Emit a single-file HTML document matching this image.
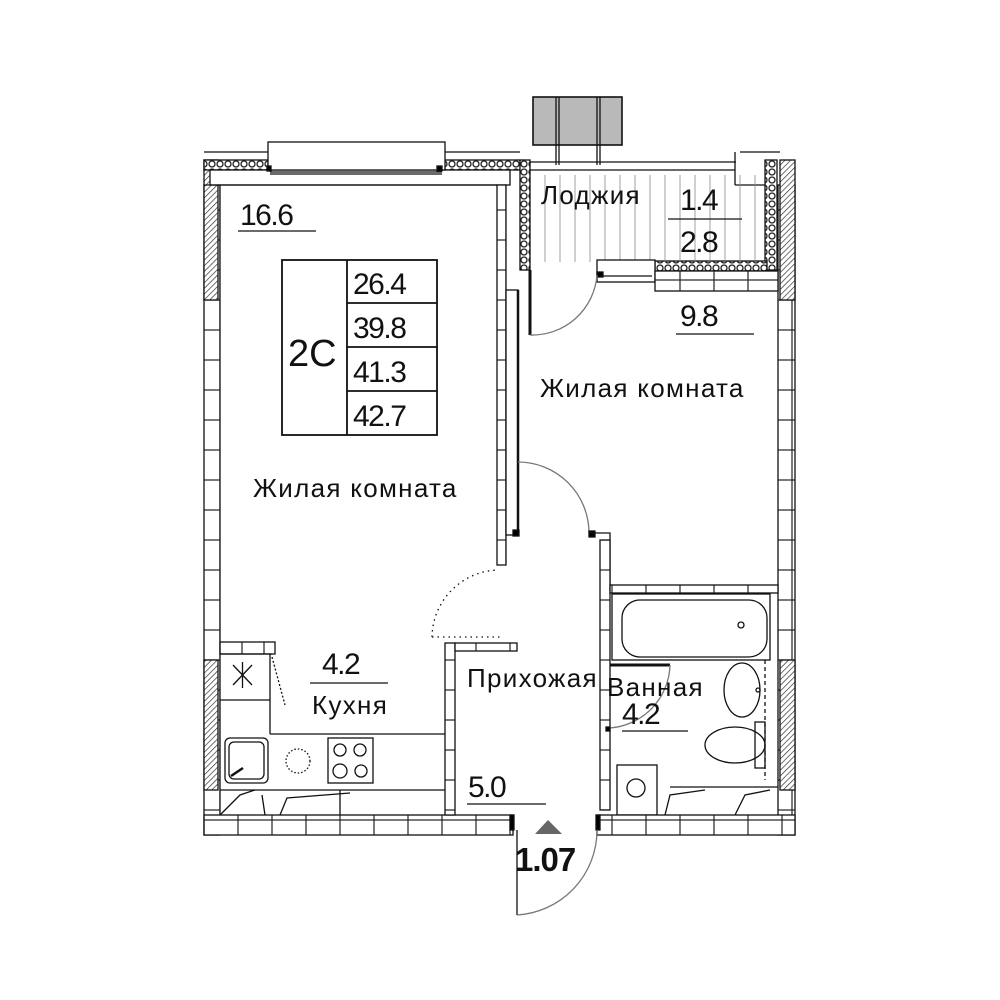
<!DOCTYPE html>
<html><head><meta charset="utf-8"><style>
html,body{margin:0;padding:0;background:#fff;}
svg{display:block}
text{font-family:"Liberation Sans",sans-serif;fill:#111}
.n{font-size:30px;letter-spacing:-1.5px}
.l{font-size:26px;letter-spacing:1.3px}
</style></head><body>
<svg width="1000" height="1000" viewBox="0 0 1000 1000" xmlns="http://www.w3.org/2000/svg">
<defs>
<pattern id="h" width="4" height="4" patternUnits="userSpaceOnUse" patternTransform="rotate(45)"><rect width="4" height="4" fill="#fff"/><line x1="0" y1="0" x2="0" y2="4" stroke="#333" stroke-width="1.4"/></pattern>
<pattern id="ins" width="8" height="8" patternUnits="userSpaceOnUse"><rect width="8" height="8" fill="#fff"/><circle cx="4" cy="4" r="3" fill="none" stroke="#222" stroke-width="1.3"/></pattern>
<pattern id="br" width="22" height="30" patternUnits="userSpaceOnUse"><rect width="22" height="30" fill="#fff" stroke="#222" stroke-width="1.2"/></pattern>
<pattern id="bh" width="34" height="20" patternUnits="userSpaceOnUse"><rect width="34" height="20" fill="#fff" stroke="#222" stroke-width="1.2"/></pattern>
</defs>
<g stroke="#111" stroke-width="1.3" fill="none">
<rect x="204" y="185" width="16" height="650" fill="url(#br)"/>
<rect x="204" y="160" width="14" height="140" fill="url(#h)"/>
<rect x="204" y="660" width="14" height="130" fill="url(#h)"/>
<rect x="778" y="185" width="17" height="650" fill="url(#br)"/>
<rect x="780" y="160" width="15" height="140" fill="url(#h)"/>
<rect x="780" y="660" width="15" height="130" fill="url(#h)"/>
<rect x="204" y="160" width="64" height="10" fill="url(#ins)"/>
<rect x="440" y="160" width="80" height="10" fill="url(#ins)"/>
<rect x="210" y="170" width="300" height="15" fill="#fff"/>
<line x1="204" y1="185" x2="497" y2="185"/>
<line x1="204" y1="152" x2="268" y2="152"/>
<line x1="445" y1="152" x2="520" y2="152"/>
<rect x="268" y="142" width="177" height="28" fill="#fff"/>
<line x1="270" y1="172" x2="442" y2="172"/>
<line x1="270" y1="174" x2="442" y2="174"/>
<rect x="267" y="166" width="4" height="5" fill="#000"/><rect x="437" y="166" width="5" height="5" fill="#000"/>
<rect x="533" y="97" width="89" height="48" fill="#b9b9b9" stroke-width="1.6"/>
<line x1="556" y1="97" x2="556" y2="165"/><line x1="559" y1="97" x2="559" y2="165"/>
<line x1="597" y1="97" x2="597" y2="165"/><line x1="600" y1="97" x2="600" y2="165"/>
<line x1="520" y1="162" x2="736" y2="162"/>
<line x1="522" y1="170" x2="735" y2="170"/>
<rect x="520" y="160" width="10" height="110" fill="url(#ins)"/>
<rect x="765" y="160" width="12" height="110" fill="url(#ins)"/>
<rect x="655" y="261" width="112" height="10" fill="url(#ins)"/>
<line x1="735" y1="152" x2="735" y2="185"/><line x1="735" y1="185" x2="765" y2="185"/>
<line x1="740" y1="152" x2="780" y2="152"/>
<g stroke="#888" stroke-width="0.8">
<line x1="545" y1="175" x2="545" y2="262"/><line x1="560" y1="175" x2="560" y2="262"/><line x1="575" y1="175" x2="575" y2="262"/><line x1="590" y1="175" x2="590" y2="262"/><line x1="605" y1="175" x2="605" y2="262"/><line x1="620" y1="175" x2="620" y2="262"/><line x1="635" y1="175" x2="635" y2="262"/><line x1="650" y1="175" x2="650" y2="262"/><line x1="665" y1="175" x2="665" y2="262"/><line x1="680" y1="175" x2="680" y2="262"/><line x1="695" y1="175" x2="695" y2="262"/><line x1="710" y1="175" x2="710" y2="262"/><line x1="725" y1="175" x2="725" y2="262"/><line x1="740" y1="175" x2="740" y2="262"/><line x1="755" y1="175" x2="755" y2="262"/>
</g>
<rect x="597" y="260" width="58" height="22" fill="#fff"/>
<rect x="597" y="272" width="6" height="5" fill="#000"/>
<line x1="600" y1="276" x2="652" y2="276"/>
<rect x="655" y="271" width="123" height="20" fill="url(#bh)"/>
<line x1="530" y1="270" x2="530" y2="335" stroke-width="3"/>
<path d="M530 335 A65 65 0 0 0 597 275" stroke="#777"/>
<rect x="497" y="185" width="9" height="380" fill="url(#br)"/>
<rect x="506" y="290" width="12" height="245" fill="#fff"/>
<line x1="518" y1="290" x2="518" y2="533" stroke-width="2.5"/>
<rect x="513" y="530" width="6" height="6" fill="#000"/>
<path d="M518 462 A71 71 0 0 1 589 533" stroke="#777"/>
<rect x="589" y="531" width="6" height="6" fill="#000"/>
<polyline points="589,533 610,533 610,585"/>
<rect x="600" y="540" width="10" height="270" fill="url(#br)"/>
<rect x="610" y="585" width="168" height="8" fill="url(#bh)"/>
<rect x="612" y="594" width="158" height="66"/>
<rect x="622" y="600" width="145" height="57" rx="18"/>
<circle cx="741" cy="625" r="3"/>
<line x1="610" y1="665" x2="670" y2="665" stroke-width="3"/>
<path d="M670 665 A65 65 0 0 1 610 728" stroke="#777"/>
<rect x="606" y="727" width="4" height="4" fill="#000"/>
<ellipse cx="742" cy="690" rx="18" ry="27"/>
<circle cx="758" cy="690" r="2"/>
<line x1="765" y1="660" x2="765" y2="780" stroke-dasharray="4 3"/>
<ellipse cx="735" cy="745" rx="30" ry="18"/>
<rect x="755" y="722" width="10" height="46"/>
<rect x="617" y="765" width="40" height="50"/>
<circle cx="636" cy="788" r="9"/>
<rect x="204" y="815" width="309" height="20" fill="url(#bh)"/>
<rect x="597" y="815" width="198" height="20" fill="url(#bh)"/>
<rect x="510" y="815" width="4" height="15" fill="#000"/><rect x="596" y="815" width="4" height="15" fill="#000"/>
<line x1="220" y1="790" x2="445" y2="790"/>
<line x1="670" y1="787" x2="778" y2="787"/>
<path d="M220 815 L240 795 L255 790 M265 815 L262 795 M280 815 L287 798 L350 793 M665 815 L670 795 L705 790 M735 815 L745 795 L770 790"/>
<line x1="340" y1="790" x2="340" y2="815"/>
<line x1="517" y1="830" x2="517" y2="915"/>
<path d="M517 915 A85 85 0 0 0 597 830" stroke="#777"/>
<polygon points="535,834 548,820 562,834" fill="#666" stroke="none"/>
<rect x="220" y="642" width="55" height="12" fill="url(#br)"/>
<line x1="220" y1="654" x2="272" y2="654"/>
<line x1="220" y1="700" x2="270" y2="700"/>
<line x1="270" y1="654" x2="270" y2="734"/>
<path d="M272 657 L285 705" stroke-dasharray="2 2"/>
<line x1="270" y1="734" x2="445" y2="734"/>
<rect x="445" y="643" width="10" height="172" fill="url(#br)"/>
<rect x="455" y="643" width="62" height="8" fill="url(#bh)"/>
<path d="M432 637 A68 68 0 0 1 498 570" stroke-dasharray="1.5 4"/>
<line x1="432" y1="637" x2="500" y2="637" stroke-dasharray="1.5 4"/>
<rect x="225" y="738" width="43" height="45" rx="5"/>
<rect x="229" y="742" width="35" height="37" rx="5"/>
<line x1="231" y1="776" x2="243" y2="768" stroke-width="2.5"/>
<rect x="328" y="738" width="45" height="45"/>
<circle cx="340" cy="750" r="6"/><circle cx="360" cy="750" r="6"/><circle cx="340" cy="771" r="7"/><circle cx="361" cy="771" r="6"/>
<circle cx="298" cy="761" r="12" stroke-dasharray="1.5 2"/>
<path d="M233 665 L252 685 M252 665 L233 685 M242.5 662 L242.5 688"/>
<rect x="282" y="260" width="155" height="175" stroke-width="1.8"/>
<line x1="347" y1="260" x2="347" y2="435" stroke-width="1.8"/>
<line x1="347" y1="303" x2="437" y2="303" stroke-width="1.8"/>
<line x1="347" y1="347" x2="437" y2="347" stroke-width="1.8"/>
<line x1="347" y1="391" x2="437" y2="391" stroke-width="1.8"/>
<line x1="238" y1="231" x2="316" y2="231"/>
<line x1="668" y1="219" x2="742" y2="219"/>
<line x1="676" y1="334" x2="754" y2="334"/>
<line x1="310" y1="683" x2="388" y2="683"/>
<line x1="467" y1="804" x2="546" y2="804"/>
<line x1="622" y1="731" x2="688" y2="731"/>
</g>
<g class="n">
<text x="240" y="225">16.6</text>
<text x="288" y="366" font-size="38" letter-spacing="0">2C</text>
<text x="353" y="294">26.4</text>
<text x="353" y="338">39.8</text>
<text x="353" y="382">41.3</text>
<text x="353" y="426">42.7</text>
<text x="680" y="210">1.4</text>
<text x="680" y="252">2.8</text>
<text x="680" y="326">9.8</text>
<text x="322" y="674">4.2</text>
<text x="468" y="797">5.0</text>
<text x="622" y="724">4.2</text>
</g>
<g class="l">
<text x="541" y="204">Лоджия</text>
<text x="540" y="397">Жилая комната</text>
<text x="253" y="497">Жилая комната</text>
<text x="312" y="714">Кухня</text>
<text x="467" y="687">Прихожая</text>
<text x="607" y="696">Ванная</text>
</g>
<text x="515" y="871" font-size="33" font-weight="bold" letter-spacing="-1">1.07</text>
</svg>
</body></html>
